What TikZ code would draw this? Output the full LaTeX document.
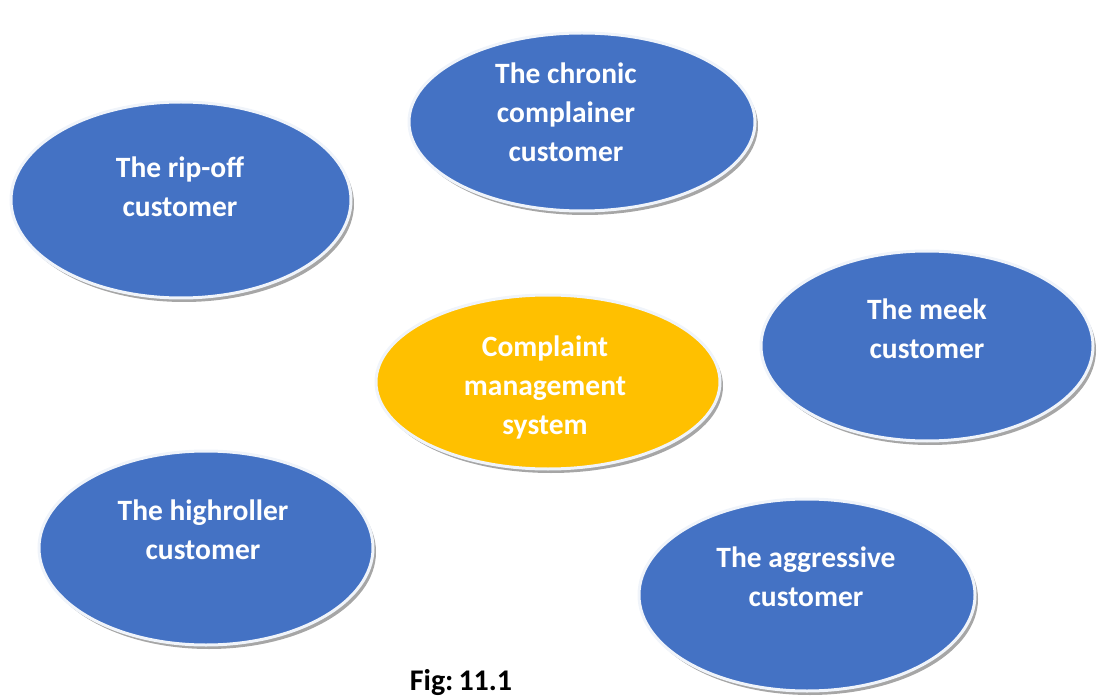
\documentclass[tikz,border=0pt]{standalone}
\usepackage{fontspec}
\setmainfont{Carlito}
\usetikzlibrary{shapes.geometric,shadows}
\definecolor{oblue}{HTML}{4472C4}
\definecolor{oyell}{HTML}{FFC000}
\begin{document}
\begin{tikzpicture}[x=1pt,y=-1pt,
  oval/.style={ellipse,inner sep=0pt,draw=white!92!oblue,line width=3pt,
    drop shadow={shadow xshift=3pt,shadow yshift=-4pt,fill=gray,opacity=0.7}},
  lbl/.style={text=white,font=\bfseries\fontsize{29.5}{39}\selectfont,align=center}]
\useasboundingbox (0,0) rectangle (1097,700);
\node[oval,fill=oblue,minimum width=340,minimum height=196] (e1) at (181,200) {};
\node[oval,fill=oblue,minimum width=346,minimum height=178] (e2) at (582,122) {};
\node[oval,fill=oblue,minimum width=332,minimum height=190] (e3) at (927,346) {};
\node[oval,fill=oyell,minimum width=344,minimum height=174] (e4) at (548,382) {};
\node[oval,fill=oblue,minimum width=334,minimum height=194] (e5) at (206,548) {};
\node[oval,fill=oblue,minimum width=336,minimum height=192] (e6) at (807,595) {};
\node[lbl] (t1) at (180,187) {The rip-off\\customer};
\node[lbl] (t2) at (566,112) {The chronic\\complainer\\customer};
\node[lbl] (t3) at (927,329) {The meek\\customer};
\node[lbl] (t4) at (545,387) {Complaint\\management\\system};
\node[lbl] (t5) at (203,530) {The highroller\\customer};
\node[lbl] (t6) at (806,577) {The aggressive\\customer};
\node[font=\bfseries\fontsize{30}{35}\selectfont] (fig) at (461,683) {Fig:\,11.1};
\end{tikzpicture}
\end{document}
